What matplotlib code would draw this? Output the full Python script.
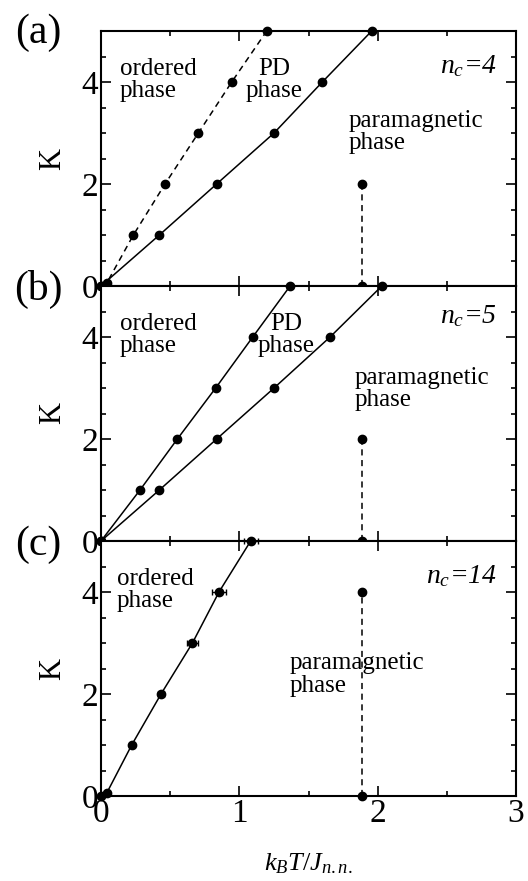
import numpy as np
import matplotlib
matplotlib.use("Agg")
import matplotlib.pyplot as plt
from matplotlib.ticker import MultipleLocator

plt.rcParams['font.family'] = ['Liberation Serif', 'DejaVu Serif']
plt.rcParams['mathtext.fontset'] = 'custom'
plt.rcParams['mathtext.rm'] = 'Liberation Serif'
plt.rcParams['mathtext.it'] = 'Liberation Serif:italic'

# (a) n_c = 4
a_upper_T = [0.0, 0.04, 0.234, 0.463, 0.704, 0.945, 1.198]
a_upper_K = [0.0, 0.05, 1, 2, 3, 4, 5]
a_lower_T = [0.0, 0.422, 0.836, 1.251, 1.60, 1.957]
a_lower_K = [0.0, 1, 2, 3, 4, 5]

# (b) n_c = 5
b_upper_T = [0.0, 0.282, 0.552, 0.829, 1.097, 1.367]
b_upper_K = [0.0, 1, 2, 3, 4, 5]
b_lower_T = [0.0, 0.422, 0.836, 1.251, 1.656, 2.03]
b_lower_K = [0.0, 1, 2, 3, 4, 5]

# (c) n_c = 14
c_T = [0.0, 0.04, 0.222, 0.434, 0.661, 0.853, 1.082]
c_K = [0.0, 0.05, 1, 2, 3, 4, 5]
c_err = [0.0, 0.0, 0.0, 0.02, 0.041, 0.048, 0.05]

# paramagnetic transition at K=0 (vertical dashed guide)
para_T = 1.885
para_top = [2, 2, 4]

panel_tags = ['(a)', '(b)', '(c)']
nc_labels = ['$n_c$=4', '$n_c$=5', '$n_c$=14']

fig = plt.figure(figsize=(5.28, 8.81), dpi=100)
W, H = 528, 881
left, width = 101 / W, 415 / W
tops = [31, 286, 541]
ph = 255

axes = []
for top in tops:
    ax = fig.add_axes([left, 1 - (top + ph) / H, width, ph / H])
    axes.append(ax)

for i, ax in enumerate(axes):
    ax.set_xlim(0, 3)
    ax.set_ylim(0, 5)
    ax.xaxis.set_major_locator(MultipleLocator(1))
    ax.xaxis.set_minor_locator(MultipleLocator(0.5))
    ax.yaxis.set_major_locator(MultipleLocator(2))
    ax.yaxis.set_minor_locator(MultipleLocator(0.5))
    ax.tick_params(which='both', direction='in', top=True, right=True, width=1.2)
    ax.tick_params(which='major', length=7.5, labelsize=24, pad=2)
    ax.tick_params(which='minor', length=3.5)
    for s in ax.spines.values():
        s.set_linewidth(1.5)
    ax.set_ylabel('K', fontsize=22, labelpad=10)
    if i < 2:
        ax.tick_params(labelbottom=False)
    ax.text(2.86, 4.17 if i != 1 else 4.27, nc_labels[i], fontsize=20,
            style='italic', ha='right', va='baseline')
    # vertical dashed line toward the paramagnetic transition
    ax.plot([para_T, para_T], [0, para_top[i]], 'k--', lw=1.1, dashes=(4, 3))
    ax.plot([para_T, para_T], [0, para_top[i]], 'ko', ms=6, clip_on=False, zorder=5)

mk = dict(marker='o', ms=6, color='k', lw=1.1, clip_on=False, zorder=4)
txt = dict(fontsize=18, va='top', linespacing=1.02)

ax = axes[0]
ax.plot(a_upper_T, a_upper_K, ls='--', dashes=(4, 3), **mk)
ax.plot(a_lower_T, a_lower_K, ls='-', **mk)
ax.text(0.137, 4.47, 'ordered\nphase', ha='left', **txt)
ax.text(1.25, 4.47, 'PD\nphase', ha='center', **txt)
ax.text(1.787, 3.45, 'paramagnetic\nphase', ha='left', **txt)

ax = axes[1]
ax.plot(b_upper_T, b_upper_K, ls='-', **mk)
ax.plot(b_lower_T, b_lower_K, ls='-', **mk)
ax.text(0.137, 4.47, 'ordered\nphase', ha='left', **txt)
ax.text(1.34, 4.47, 'PD\nphase', ha='center', **txt)
ax.text(1.836, 3.41, 'paramagnetic\nphase', ha='left', **txt)

ax = axes[2]
ax.errorbar(c_T, c_K, xerr=c_err, fmt='-o', color='k', ms=6, lw=1.1,
            elinewidth=1.0, capsize=2.5, capthick=1.0, clip_on=False, zorder=4)
ax.text(0.113, 4.47, 'ordered\nphase', ha='left', **txt)
ax.text(1.36, 2.82, 'paramagnetic\nphase', ha='left', **txt)
ax.set_xlabel('$k_BT/J_{n.n.}$', fontsize=19, labelpad=16)

# panel tags
for tag, yb in zip(panel_tags, [43, 300, 555]):
    fig.text(38 / W, 1 - yb / H, tag, fontsize=30, ha='center', va='baseline')

fig.savefig('out.png', dpi=100)
